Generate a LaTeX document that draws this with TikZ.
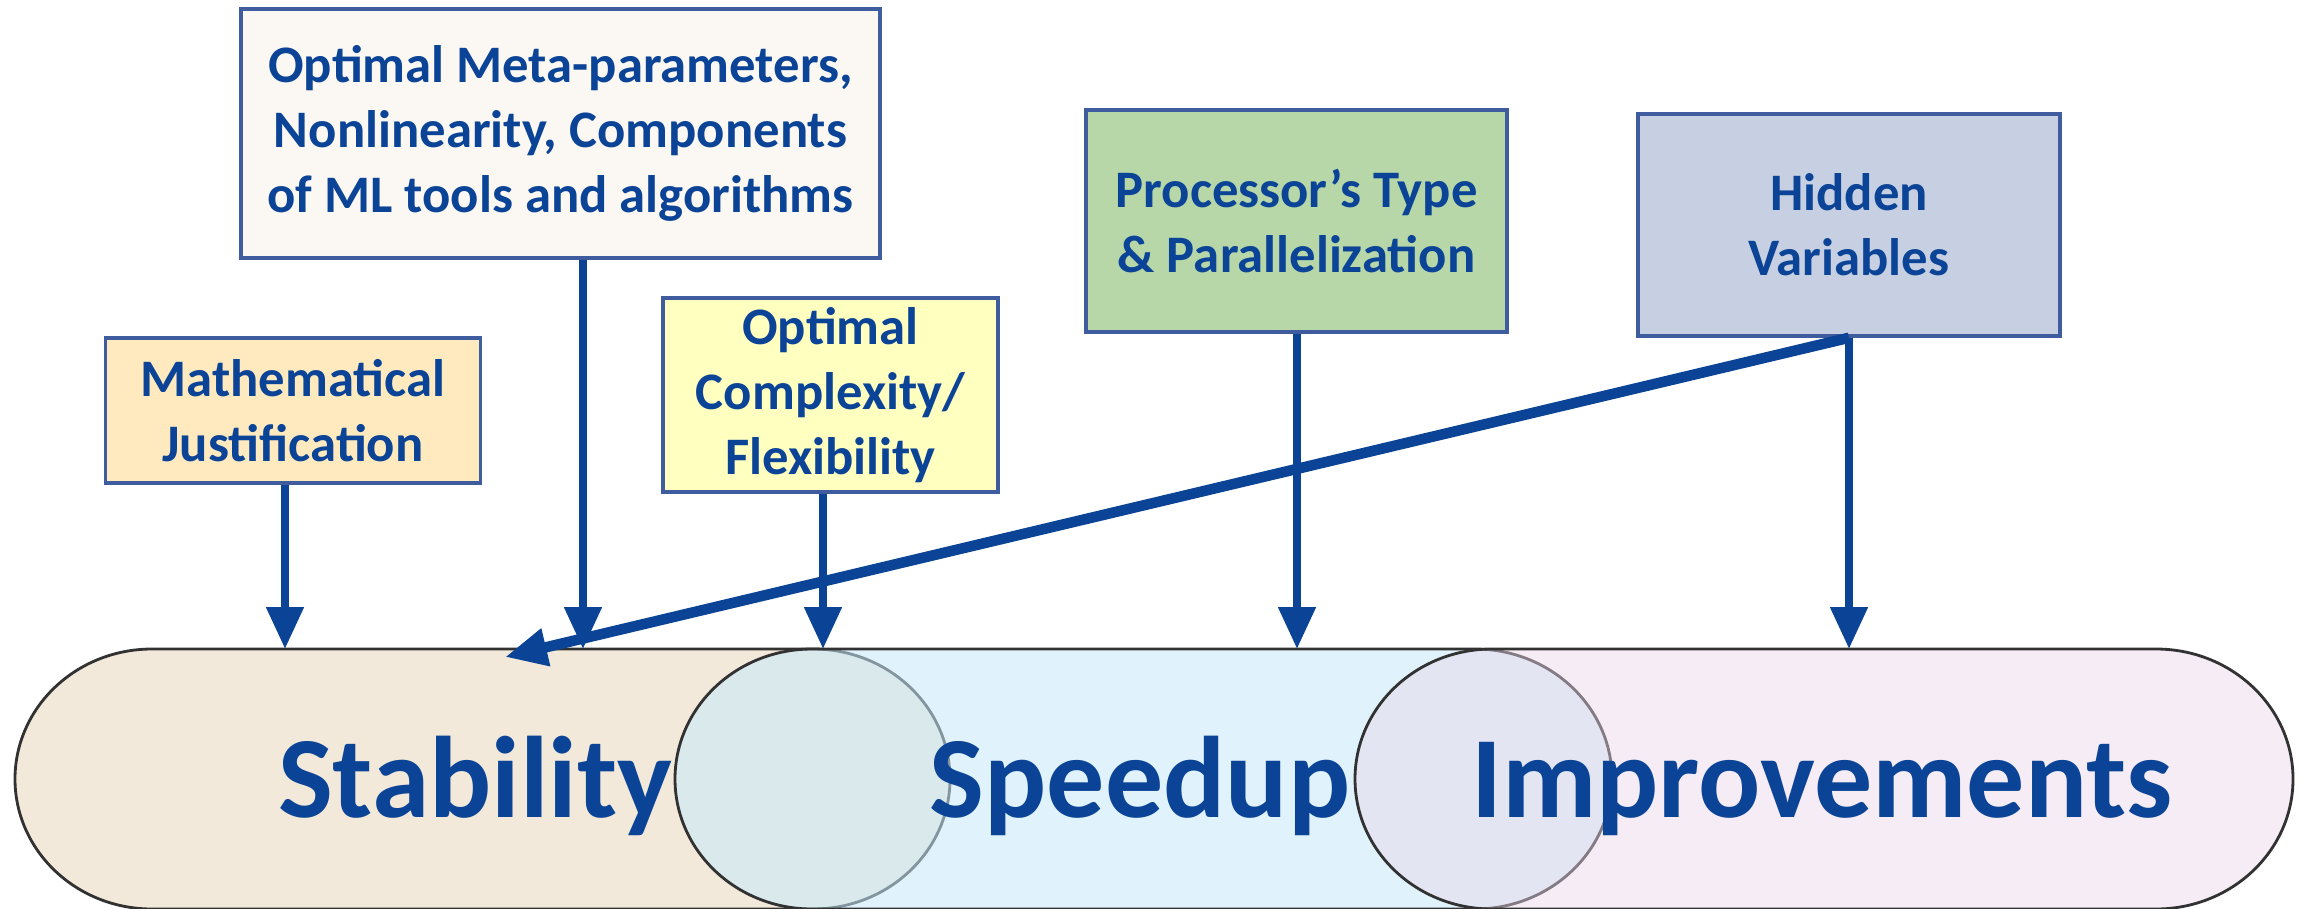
\documentclass[tikz,border=0pt]{standalone}
\usepackage{fontspec}
\setmainfont{Carlito}
\usepackage{xcolor}
\usetikzlibrary{arrows.meta,positioning,calc}

\definecolor{txtblue}{RGB}{11,68,150}
\definecolor{edgeblue}{RGB}{62,92,158}
\definecolor{pillgray}{RGB}{50,50,50}
\definecolor{stabfill}{RGB}{243,233,218}
\definecolor{speedfill}{RGB}{199,233,250}
\definecolor{imprfill}{RGB}{233,213,233}
\definecolor{metafill}{RGB}{251,248,243}
\definecolor{mathfill}{RGB}{254,234,190}
\definecolor{cplxfill}{RGB}{255,255,192}
\definecolor{procfill}{RGB}{183,215,168}
\definecolor{hidfill}{RGB}{199,208,226}

\begin{document}
\begin{tikzpicture}[
    box/.style={rectangle, draw=edgeblue, line width=1pt, align=center, inner sep=0pt, text=txtblue, font=\fontsize{15}{18.5}\selectfont\bfseries},
    arrow/.style={-{Triangle[length=0.42cm, width=0.36cm]}, line width=2.3pt, draw=txtblue},
    pill/.style={draw=pillgray, line width=0.8pt},
    word/.style={anchor=base, text=txtblue, font=\fontsize{33}{40}\selectfont\bfseries}
]
    \useasboundingbox (0,0) rectangle (23.01,9.08);

    % the three regions
    \draw [pill, fill=stabfill] (1.52,2.59) -- (8.13,2.59) arc (90:-90:1.37 and 1.30) -- (1.52,-0.01) arc (270:90:1.37 and 1.30) -- cycle;
    \node [word] (s1) at (4.75,0.91) {Stability};
    \draw [pill, fill=speedfill, fill opacity=0.55] (8.12,2.59) -- (14.75,2.59) arc (90:-90:1.37 and 1.30) -- (8.12,-0.01) arc (270:90:1.37 and 1.30) -- cycle;
    \node [word] (s2) at (11.40,0.91) {Speedup};
    \draw [pill, fill=imprfill, fill opacity=0.45] (14.92,2.59) -- (21.56,2.59) arc (90:-90:1.37 and 1.30) -- (14.92,-0.01) arc (270:90:1.37 and 1.30) -- cycle;
    \node [word] (s3) at (18.22,0.91) {Improvements};

    % factors
    \node [box, fill=mathfill, minimum width=3.75cm, minimum height=1.45cm] (n1) at (2.93,4.975) {Mathematical\\Justification};
    \node [box, fill=metafill, minimum width=6.39cm, minimum height=2.49cm] (n2) at (5.605,7.745) {Optimal Meta-parameters,\\Nonlinearity, Components\\of ML tools and algorithms};
    \node [box, fill=cplxfill, minimum width=3.35cm, minimum height=1.94cm] (n3) at (8.305,5.13) {Optimal\\Complexity/\\Flexibility};
    \node [box, fill=procfill, minimum width=4.21cm, minimum height=2.22cm] (n4) at (12.965,6.87) {Processor’s Type\\\& Parallelization};
    \node [box, fill=hidfill, minimum width=4.22cm, minimum height=2.22cm] (n5) at (18.49,6.83) {Hidden\\Variables};

    \coordinate (e1) at (2.85,2.59);
    \coordinate (e2) at (5.83,2.59);
    \coordinate (e3) at (8.23,2.59);
    \coordinate (e4) at (12.97,2.59);
    \coordinate (e5) at (18.49,2.59);
    \coordinate (e6) at (5.05,2.51);

    \draw [arrow] (n1.south -| e1) -- (e1);
    \draw [arrow] (n2.south -| e2) -- (e2);
    \draw [arrow] (n3.south -| e3) -- (e3);
    \draw [arrow] (n4.south -| e4) -- (e4);
    \draw [arrow] (n5.south -| e5) -- (e5);
    \draw [arrow, line width=3pt] (n5.south) -- (e6);
\end{tikzpicture}
\end{document}
